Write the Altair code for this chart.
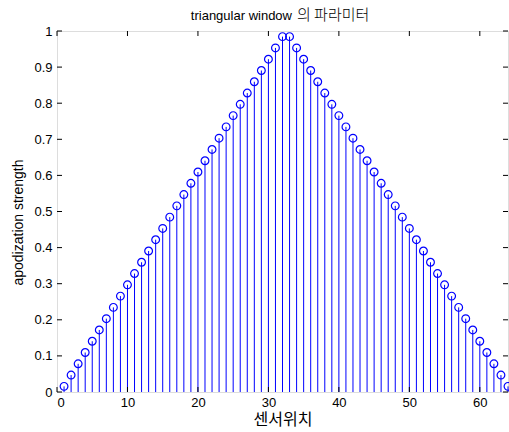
import altair as alt
import pandas as pd

# Sensor positions 1..64 and their apodization weights (triangular window)
positions = list(range(1, 65))
strength_rising = [0.0156, 0.0469, 0.0781, 0.1094, 0.1406, 0.1719, 0.2031, 0.2344,
                   0.2656, 0.2969, 0.3281, 0.3594, 0.3906, 0.4219, 0.4531, 0.4844,
                   0.5156, 0.5469, 0.5781, 0.6094, 0.6406, 0.6719, 0.7031, 0.7344,
                   0.7656, 0.7969, 0.8281, 0.8594, 0.8906, 0.9219, 0.9531, 0.9844]
strength_falling = [0.9844, 0.9531, 0.9219, 0.8906, 0.8594, 0.8281, 0.7969, 0.7656,
                    0.7344, 0.7031, 0.6719, 0.6406, 0.6094, 0.5781, 0.5469, 0.5156,
                    0.4844, 0.4531, 0.4219, 0.3906, 0.3594, 0.3281, 0.2969, 0.2656,
                    0.2344, 0.2031, 0.1719, 0.1406, 0.1094, 0.0781, 0.0469, 0.0156]
strength = strength_rising + strength_falling

x_ticks = [0, 10, 20, 30, 40, 50, 60]
y_ticks = [0, 0.1, 0.2, 0.3, 0.4, 0.5, 0.6, 0.7, 0.8, 0.9, 1.0]

title_latin = "triangular window"
title_korean = "의 파라미터"

W, H = 451, 361
BLUE = "#0000ff"
FONT = "Liberation Sans, Noto Sans CJK KR"
KFONT = "Noto Sans CJK KR"

df = pd.DataFrame({"pos": positions, "val": strength})
xt = pd.DataFrame({"pos": x_ticks})
yt = pd.DataFrame({"val": y_ticks})
one = pd.DataFrame({"k": [0]})

xscale = alt.Scale(domain=[0, 64], nice=False, zero=False)
yscale = alt.Scale(domain=[0, 1], nice=False)

x_axis = alt.Axis(values=x_ticks, tickSize=0, labelPadding=4, domain=False,
                  grid=False, labelFont="Liberation Sans", labelFontSize=13,
                  labelColor="black",
                  title="센서위치", titleFontSize=16, titleFont=FONT,
                  titleFontWeight="normal", titlePadding=2, titleColor="black")
y_axis = alt.Axis(values=y_ticks, tickSize=0, labelPadding=5, domain=False,
                  grid=False, labelFont="Liberation Sans", labelFontSize=13,
                  labelColor="black",
                  title="apodization strength", titleFontSize=14, titleFont=FONT,
                  titleFontWeight="normal", titlePadding=8, titleY=191,
                  titleColor="black",
                  labelExpr="datum.value == 1 ? '1' : datum.value == 0 ? '0' : format(datum.value, '.1f')")

X = alt.X("pos:Q", scale=xscale, axis=x_axis, title="센서위치")
Y = alt.Y("val:Q", scale=yscale, axis=y_axis, title="apodization strength")

stems = alt.Chart(df).mark_rule(color=BLUE, strokeWidth=1).encode(
    x=X, y=Y, y2=alt.datum(0),
)

heads = alt.Chart(df).mark_point(shape="circle", filled=False, color=BLUE,
                                 size=60, strokeWidth=1.2, opacity=1).encode(
    x=X, y=Y,
)

# Inward-pointing tick marks on all four sides of the box
tick_bottom = alt.Chart(xt).mark_rule(color="black").encode(
    x=X, y=alt.value(H), y2=alt.value(H - 5))
tick_top = alt.Chart(xt).mark_rule(color="black").encode(
    x=X, y=alt.value(0), y2=alt.value(5))
tick_left = alt.Chart(yt).mark_rule(color="black").encode(
    y=Y, x=alt.value(0), x2=alt.value(5))
tick_right = alt.Chart(yt).mark_rule(color="black").encode(
    y=Y, x=alt.value(W), x2=alt.value(W - 5))

# Title in two runs: Latin text and the larger Hangul text
title_a = alt.Chart(one).mark_text(
    text=title_latin, font="Liberation Sans", fontSize=13, align="right",
    baseline="alphabetic", color="black",
).encode(x=alt.value(235), y=alt.value(-11))
title_b = alt.Chart(one).mark_text(
    text=title_korean, font=KFONT, fontSize=15, fontWeight=300, align="left",
    baseline="alphabetic", color="black",
).encode(x=alt.value(240), y=alt.value(-11))

chart = alt.layer(stems, heads, tick_bottom, tick_top, tick_left, tick_right,
                  title_a, title_b).properties(
    width=W, height=H,
    autosize=alt.AutoSizeParams(type="none"),
    padding={"left": 57, "top": 31, "right": 1, "bottom": 40},
).configure_view(
    stroke="black", strokeWidth=1,
).configure(background="white")

chart.save("out.html", embed_options={"renderer": "svg", "actions": False})
